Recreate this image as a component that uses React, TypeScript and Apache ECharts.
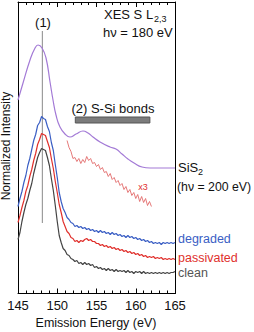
import React, { useEffect, useRef } from "react";
import * as echarts from "echarts";

// Energy grid (eV) for the measured spectra, 0.25 eV spacing
const E_START = 145;
const E_STEP = 0.25;

// degraded (blue), passivated (red), clean (dark gray) — arbitrary intensity units
const degraded = [
  87, 95, 102, 111, 118, 128, 135, 144, 153, 159, 168, 171, 177, 175, 174, 167,
  162, 151, 143, 129, 116, 101, 92, 85, 81, 76, 74, 71, 70, 67, 68, 66,
  67, 65, 66, 64, 65, 63, 64, 62, 63, 61, 63, 61, 62, 60, 61, 59,
  61, 59, 60, 58, 59, 57, 58, 56, 58, 56, 57, 55, 56, 54, 55, 53,
  54, 52, 53, 51, 52, 50, 51, 50, 51, 49, 51, 50, 51, 50, 51, 50, 51,
];
const passivated = [
  71, 78, 86, 93, 102, 108, 117, 124, 133, 140, 149, 154, 160, 159, 158, 152,
  146, 135, 125, 112, 101, 89, 81, 72, 67, 62, 60, 56, 55, 52, 53, 51,
  53, 52, 54, 55, 53, 54, 52, 52, 50, 50, 48, 49, 47, 48, 46, 47,
  45, 46, 44, 45, 43, 44, 42, 43, 41, 42, 40, 41, 39, 40, 38, 39,
  37, 38, 36, 37, 36, 37, 35, 36, 35, 36, 34, 35, 34, 35, 34, 35, 34,
];
const clean = [
  54, 61, 72, 81, 89, 95, 103, 110, 120, 128, 136, 141, 145, 144, 143, 136,
  128, 115, 103, 88, 72, 58, 51, 45, 43, 39, 38, 35, 34, 32, 33, 30,
  31, 29, 31, 29, 30, 28, 29, 26, 27, 25, 26, 24, 25, 23, 25, 23,
  24, 22, 24, 22, 23, 22, 23, 21, 23, 21, 22, 20, 22, 21, 22, 20,
  22, 20, 21, 20, 21, 20, 21, 20, 21, 20, 21, 20, 21, 20, 21, 21, 22,
];

// passivated x3 magnified tail, starting at 151.25 eV
const X3_START = 151.25;
const passivatedX3 = [
  153, 146, 142, 135, 136, 132, 135, 130, 134, 131, 137, 133, 135, 130, 131,
  127, 129, 124, 126, 121, 122, 117, 120, 114, 116, 111, 113, 108, 110, 104,
  107, 101, 104, 98, 101, 95, 99, 92, 97, 91, 95, 88, 92, 87,
];

// SiS2 reference spectrum (smooth)
const sisEnergy = [
  145.0, 145.64, 146.53, 147.17, 147.55, 148.06, 148.57, 149.08, 149.46, 149.84,
  150.35, 150.99, 151.62, 152.39, 153.28, 153.92, 154.55, 155.45, 156.72, 157.48,
  158.25, 159.01, 159.78, 160.8, 161.82, 165.0,
];
const sisValue = [
  193.5, 210.5, 233.5, 245.5, 248.5, 245.5, 235.5, 211.5, 193.5, 178.5,
  166.5, 159.5, 156.5, 159.5, 162.5, 160.5, 156.5, 151.5, 146.5, 144.5,
  139.5, 134.5, 130.5, 126.5, 125.5, 125.5,
];

// peak (1) marker and S-Si bond band (2)
const peak1Energy = 148.1;
const peak1Range = [70.5, 262.5];
const bandEnergy = [152.3, 161.8];
const bandRange = [170.5, 176.5];

const xTicks = [145, 150, 155, 160, 165];

const FONT = "'Liberation Sans', Arial, sans-serif";

const toPairs = (start: number, step: number, vals: number[]) =>
  vals.map((v, i) => [start + i * step, v]);

export default function App() {
  const ref = useRef<HTMLDivElement>(null);
  useEffect(() => {
    if (!ref.current) return;
    const chart = echarts.init(ref.current, undefined, { renderer: "svg" });
    const axisCommon = {
      type: "value" as const,
      min: xTicks[0],
      max: xTicks[xTicks.length - 1],
      interval: 5,
      axisLine: { show: true, onZero: false, lineStyle: { color: "#000", width: 1 } },
      axisTick: { show: true, inside: true, length: 5, lineStyle: { color: "#000" } },
      minorTick: { show: true, splitNumber: 5, length: 3, lineStyle: { color: "#000" } },
      splitLine: { show: false },
      minorSplitLine: { show: false },
    };
    const yCommon = {
      type: "value" as const,
      min: 0,
      max: 291.5,
      axisLine: { show: true, onZero: false, lineStyle: { color: "#000", width: 1 } },
      axisTick: { show: false },
      axisLabel: { show: false },
      splitLine: { show: false },
    };
    const lineSeries = (name: string, data: number[][], color: string, width = 1, smooth = false) => ({
      name,
      type: "line",
      data,
      showSymbol: false,
      smooth,
      silent: true,
      lineStyle: { color, width },
      xAxisIndex: 0,
      yAxisIndex: 0,
    });
    const txt = (text: string, x: number, y: number, size: number, color = "#111", align = "left") => ({
      type: "text",
      x,
      y,
      style: {
        text,
        fontSize: size,
        fontFamily: FONT,
        fill: color,
        textAlign: align,
        textVerticalAlign: "middle",
      },
    });
    chart.setOption({
      animation: false,
      grid: { left: 18, right: 79, top: 2, bottom: 38.5 },
      xAxis: [
        {
          ...axisCommon,
          position: "bottom",
          axisLabel: { show: true, fontSize: 13, color: "#111", margin: 5, fontFamily: FONT },
        },
        { ...axisCommon, position: "top", axisLabel: { show: false } },
      ],
      yAxis: [
        { ...yCommon, position: "left" },
        { ...yCommon, position: "right" },
      ],
      series: [
        lineSeries("peak1", [[peak1Energy, peak1Range[0]], [peak1Energy, peak1Range[1]]], "#8a8a8a", 1),
        {
          ...lineSeries(
            "SiS2",
            sisEnergy.map((e, i) => [e, sisValue[i]]),
            "#a37ad6",
            1.2,
            true
          ),
          markArea: {
            silent: true,
            itemStyle: { color: "#7c7c7c", borderColor: "#555", borderWidth: 1 },
            data: [
              [
                { xAxis: bandEnergy[0], yAxis: bandRange[0] },
                { xAxis: bandEnergy[1], yAxis: bandRange[1] },
              ],
            ],
          },
        },
        lineSeries("degraded", toPairs(E_START, E_STEP, degraded), "#3a5ec4", 1.2),
        lineSeries("passivated", toPairs(E_START, E_STEP, passivated), "#e0302c", 1.2),
        lineSeries("clean", toPairs(E_START, E_STEP, clean), "#444444", 1.2),
        lineSeries("passivated x3", toPairs(X3_START, E_STEP, passivatedX3), "#e26a6a", 0.9),
      ],
      graphic: [
        txt("(1)", 43, 22, 13, "#111", "center"),
        txt("XES S L", 104, 14.5, 13),
        txt("2,3", 154, 19, 9),
        txt("hν = 180 eV", 103, 32.5, 13),
        txt("(2) S-Si bonds", 113, 108.5, 13, "#111", "center"),
        txt("x3", 143, 187, 9, "#e0302c", "center"),
        txt("SiS", 178, 167, 13),
        txt("2", 198, 172, 9),
        txt("(hν = 200 eV)", 177, 187, 12.3),
        txt("degraded", 178, 239, 12.5, "#3a5ec4"),
        txt("passivated", 178, 258, 12.5, "#e0302c"),
        txt("clean", 178, 273, 12.5, "#555555"),
        txt("Emission Energy (eV)", 96, 323, 12.5, "#111", "center"),
        {
          type: "text",
          x: 6,
          y: 146,
          rotation: Math.PI / 2,
          style: {
            text: "Normalized Intensity",
            fontSize: 12,
            fontFamily: FONT,
            fill: "#111",
            textAlign: "center",
            textVerticalAlign: "middle",
          },
        },
      ],
    });
    return () => chart.dispose();
  }, []);
  return <div ref={ref} style={{ width: 254, height: 332, position: "absolute", left: 0, top: 0 }} />;
}
